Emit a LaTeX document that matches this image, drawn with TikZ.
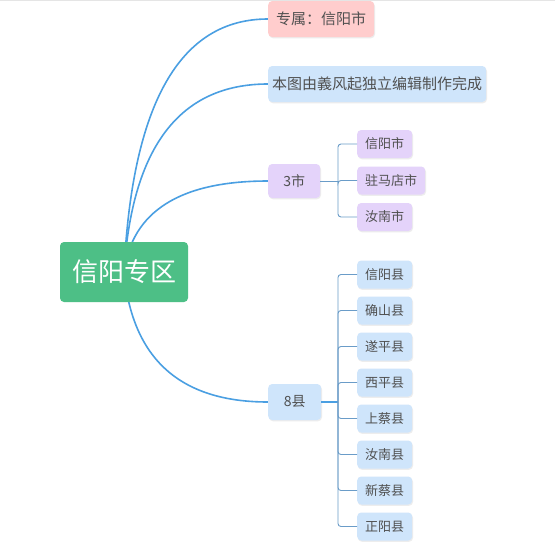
\documentclass[tikz,border=0pt]{standalone}
\usepackage{fontspec}
\setmainfont{Noto Sans CJK SC}
\usetikzlibrary{calc}
\pgfdeclarelayer{back}
\pgfdeclarelayer{bg}
\pgfsetlayers{back,bg,main}
\definecolor{rootgreen}{HTML}{4DBF86}
\definecolor{pinkbox}{HTML}{FFCDCD}
\definecolor{bluebox}{HTML}{CFE5FB}
\definecolor{purplebox}{HTML}{E4D3FA}
\definecolor{txt}{HTML}{505050}
\definecolor{curveblue}{HTML}{4A9FE2}
\definecolor{brblue}{HTML}{6A9CC8}
\begin{document}
\begin{tikzpicture}[x=1pt,y=-1pt,
  box/.style={rounded corners=4pt, inner sep=0pt, text=txt, anchor=west,
    preaction={fill=black!15, opacity=0.45, transform canvas={shift={(0.8pt,-1.3pt)}}}},
  lvlone/.style={box, font=\fontsize{15}{15}\selectfont, minimum height=36pt},
  leaf/.style={box, font=\fontsize{13}{13}\selectfont, minimum height=28pt, minimum width=55pt},
  curve/.style={draw=curveblue, line width=1.6pt},
  stub/.style={draw=curveblue, line width=2pt},
  bracket/.style={draw=brblue, line width=0.9pt, rounded corners=3pt}]
\useasboundingbox (0,0) rectangle (555,547);
\begin{pgfonlayer}{back}
\fill[white] (0,0) rectangle (555,547);
\draw[black!10, line width=1pt] (0,0.5) -- (555,0.5);
\end{pgfonlayer}

% root
\node[rounded corners=4pt, fill=rootgreen, text=white, minimum width=128pt, minimum height=60pt,
  inner sep=0pt, font=\fontsize{26}{26}\selectfont] (root) at (124,272) {信阳专区};

% first level
\node[lvlone, fill=pinkbox, minimum width=106pt] (zs) at (268,19) {专属：信阳市};
\node[lvlone, fill=bluebox, minimum width=218pt] (bt) at (268,84) {本图由義风起独立编辑制作完成};
\node[lvlone, fill=purplebox, minimum width=52pt, minimum height=34pt, font=\fontsize{14}{14}\selectfont] (s3) at (268,181) {3市};
\node[lvlone, fill=bluebox, minimum width=53pt, font=\fontsize{14}{14}\selectfont] (x8) at (268,402) {8县};

% cities
\node[leaf, fill=purplebox] (c1) at (357,144) {信阳市};
\node[leaf, fill=purplebox, minimum width=68pt] (c2) at (357,180.5) {驻马店市};
\node[leaf, fill=purplebox] (c3) at (357,217) {汝南市};

% counties
\node[leaf, fill=bluebox] (k1) at (357,274.5) {信阳县};
\node[leaf, fill=bluebox] (k2) at (357,310.5) {确山县};
\node[leaf, fill=bluebox] (k3) at (357,346.5) {遂平县};
\node[leaf, fill=bluebox] (k4) at (357,382.5) {西平县};
\node[leaf, fill=bluebox] (k5) at (357,418.5) {上蔡县};
\node[leaf, fill=bluebox] (k6) at (357,454.5) {汝南县};
\node[leaf, fill=bluebox] (k7) at (357,490.5) {新蔡县};
\node[leaf, fill=bluebox] (k8) at (357,526.5) {正阳县};

\coordinate (rc) at (136,272);
\coordinate (b3) at (338,181);
\coordinate (b8) at (338,402);

\begin{pgfonlayer}{bg}
\foreach \t in {zs,bt,s3,x8}{
  \draw[curve] (root.center) .. controls ($(root.center)!0.667!(rc |- \t.west)$)
     and ($(\t.west)!0.667!(rc |- \t.west)$) .. (\t.west);
}
\end{pgfonlayer}

% brackets
\draw[bracket] (s3.east) -- (b3);
\foreach \c in {c1,c2,c3}{ \draw[bracket] (b3) |- (\c.west); }
\draw[stub] (x8.east) -- (b8);
\foreach \c in {k1,k2,k3,k4,k5,k6,k7,k8}{ \draw[bracket] (b8) |- (\c.west); }
\end{tikzpicture}
\end{document}
